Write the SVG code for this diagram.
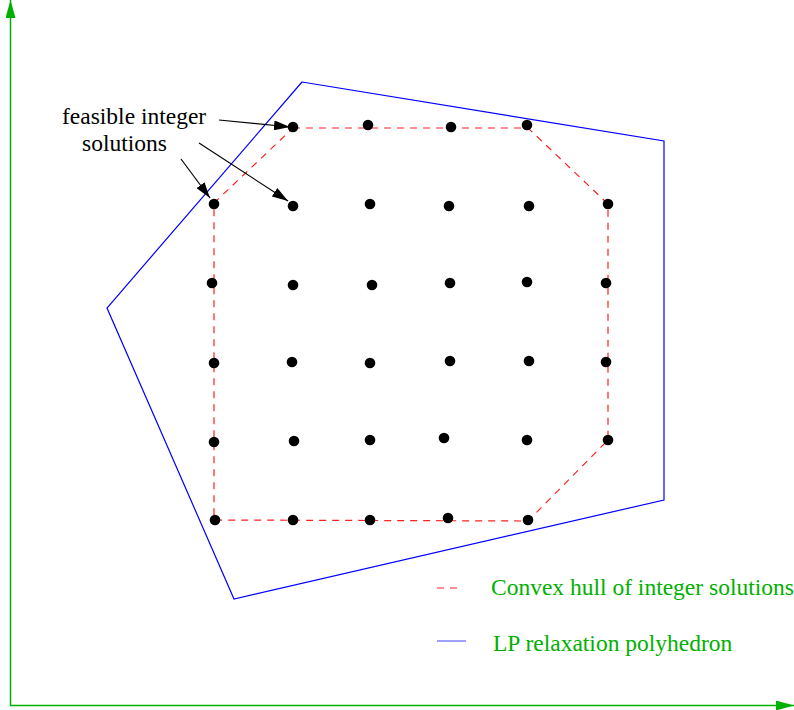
<svg xmlns="http://www.w3.org/2000/svg" width="794" height="710" viewBox="0 0 794 710">
<style>
.ax{stroke:#00b000;stroke-width:1.5;fill:none}
.lp{stroke:#0000ff;stroke-width:1.2;fill:none}
.hull{stroke:#ff2020;stroke-width:1.2;fill:none;stroke-dasharray:7,6}
.dot{fill:#000}
.lbl{font-family:"Liberation Serif","Times New Roman",serif;font-size:23.5px;fill:#000}
.leg{font-family:"Liberation Serif","Times New Roman",serif;font-size:23.5px;fill:#00b000}
.arr{stroke:#000;stroke-width:1.2;fill:none}
</style>
<defs>
<marker id="ah" markerWidth="16" markerHeight="10" refX="16" refY="5" orient="auto" markerUnits="userSpaceOnUse">
<path d="M0,0 L16,5 L0,10 z" fill="#000"/>
</marker>
<marker id="gah" markerWidth="18" markerHeight="10" refX="18" refY="5" orient="auto" markerUnits="userSpaceOnUse">
<path d="M0,0 L18,5 L0,10 z" fill="#00b000"/>
</marker>
</defs>
<rect width="794" height="710" fill="#fff"/>
<g id="axes">
<line class="ax" x1="10.5" y1="705.5" x2="10.5" y2="0" marker-end="url(#gah)"/>
<line class="ax" x1="10" y1="705.5" x2="794" y2="705.5" marker-end="url(#gah)"/>
</g>
<g id="lp-polyhedron">
<polygon class="lp" points="302,82 664,141 664,500 234,599 107,308"/>
</g>
<g id="convex-hull">
<polygon class="hull" points="293,128 528,128 608,204 608,440 528,521 214,520 214,203"/>
</g>
<g id="points">
<circle class="dot" cx="293" cy="127" r="5.3"/>
<circle class="dot" cx="368" cy="125" r="5.3"/>
<circle class="dot" cx="451" cy="127" r="5.3"/>
<circle class="dot" cx="527" cy="125" r="5.3"/>
<circle class="dot" cx="214" cy="204" r="5.3"/>
<circle class="dot" cx="293" cy="206" r="5.3"/>
<circle class="dot" cx="370" cy="204" r="5.3"/>
<circle class="dot" cx="449" cy="206" r="5.3"/>
<circle class="dot" cx="529" cy="206" r="5.3"/>
<circle class="dot" cx="608" cy="204" r="5.3"/>
<circle class="dot" cx="212" cy="283" r="5.3"/>
<circle class="dot" cx="293" cy="285" r="5.3"/>
<circle class="dot" cx="372" cy="285" r="5.3"/>
<circle class="dot" cx="450" cy="283" r="5.3"/>
<circle class="dot" cx="527" cy="282" r="5.3"/>
<circle class="dot" cx="606" cy="283" r="5.3"/>
<circle class="dot" cx="214" cy="363" r="5.3"/>
<circle class="dot" cx="292" cy="362" r="5.3"/>
<circle class="dot" cx="370" cy="363" r="5.3"/>
<circle class="dot" cx="450" cy="361" r="5.3"/>
<circle class="dot" cx="529" cy="361" r="5.3"/>
<circle class="dot" cx="606" cy="362" r="5.3"/>
<circle class="dot" cx="214" cy="442" r="5.3"/>
<circle class="dot" cx="294" cy="441" r="5.3"/>
<circle class="dot" cx="370" cy="440" r="5.3"/>
<circle class="dot" cx="444" cy="438" r="5.3"/>
<circle class="dot" cx="527" cy="440" r="5.3"/>
<circle class="dot" cx="608" cy="440" r="5.3"/>
<circle class="dot" cx="215" cy="520" r="5.3"/>
<circle class="dot" cx="293" cy="520" r="5.3"/>
<circle class="dot" cx="370" cy="520" r="5.3"/>
<circle class="dot" cx="448" cy="518" r="5.3"/>
<circle class="dot" cx="528" cy="520" r="5.3"/>
</g>
<g id="label-feasible">
<text class="lbl" x="62" y="124">feasible integer</text>
<text class="lbl" x="82" y="151">solutions</text>
</g>
<g id="connectors">
<line class="arr" x1="219" y1="120" x2="290" y2="127" marker-end="url(#ah)"/>
<line class="arr" x1="199" y1="143" x2="288" y2="201" marker-end="url(#ah)"/>
<line class="arr" x1="181" y1="159" x2="210" y2="198" marker-end="url(#ah)"/>
</g>
<g id="legend">
<line class="hull" x1="437" y1="588" x2="462" y2="588"/>
<text class="leg" x="491" y="595">Convex hull of integer solutions</text>
<line class="lp" x1="437" y1="641" x2="466" y2="641" style="stroke:#6060ff"/>
<text class="leg" x="493" y="651">LP relaxation polyhedron</text>
</g>
</svg>
